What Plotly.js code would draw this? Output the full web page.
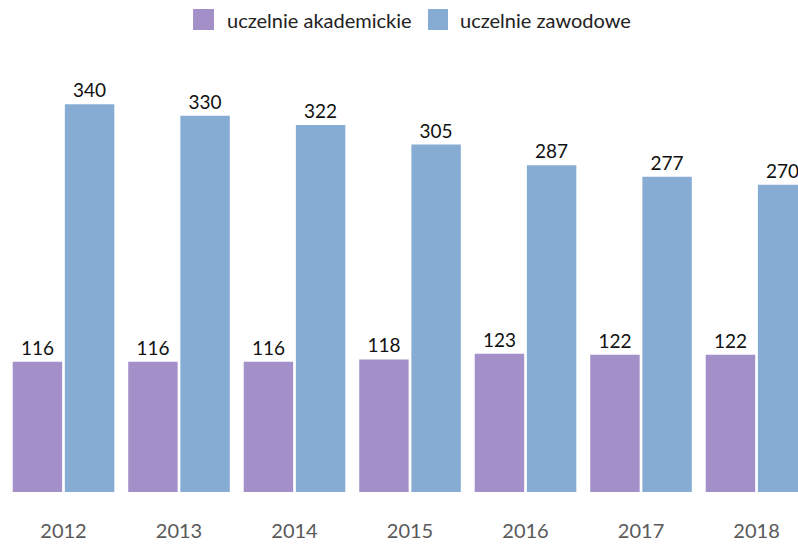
<!DOCTYPE html>
<html>
<head>
<meta charset="utf-8">
<script src="https://cdn.plot.ly/plotly-3.0.1.min.js"></script>
<style>html,body{margin:0;padding:0;background:#fff;}#chart{width:798px;height:544px;}</style>
</head>
<body>
<div id="chart"></div>
<script>
const years = ['2012', '2013', '2014', '2015', '2016', '2017', '2018'];
const academic = [116, 116, 116, 118, 123, 122, 122];
const vocational = [340, 330, 322, 305, 287, 277, 270];
const seriesNames = ['uczelnie akademickie', 'uczelnie zawodowe'];
const seriesColors = ['#A390C8', '#86ACD4'];

const FONT = 'Lato, "Open Sans", sans-serif';

const traces = [academic, vocational].map((vals, i) => ({
  type: 'bar',
  name: seriesNames[i],
  x: years,
  y: vals,
  marker: {color: seriesColors[i]},
  text: vals.map(String),
  textposition: 'outside',
  cliponaxis: false,
  textfont: {family: FONT, size: 19, color: '#111'},
  showlegend: false,
  hoverinfo: 'x+y+name'
}));

// legend drawn as swatches + text
const legendX = [[0.2419, 0.2682], [0.5363, 0.5614]];
const legendTextX = [0.282, 0.574];
const shapes = seriesNames.map((n, i) => ({
  type: 'rect', xref: 'paper', yref: 'paper',
  x0: legendX[i][0], x1: legendX[i][1], y0: 1.0452, y1: 1.0928,
  fillcolor: seriesColors[i], line: {width: 0}
}));
const annotations = seriesNames.map((n, i) => ({
  text: n, xref: 'paper', yref: 'paper', x: legendTextX[i], y: 1.069,
  xanchor: 'left', yanchor: 'middle', showarrow: false,
  font: {family: FONT, size: 20, color: '#222'}
}));

const layout = {
  width: 798, height: 544,
  margin: {l: 0, r: 0, t: 50, b: 52},
  paper_bgcolor: '#fff', plot_bgcolor: '#fff',
  barmode: 'group', bargap: 0.097, bargroupgap: 0.052,
  showlegend: false,
  font: {family: FONT},
  xaxis: {
    type: 'category', range: [-0.5498, 6.359],
    showgrid: false, zeroline: false, showline: false,
    ticks: '', ticklabelstandoff: 25,
    tickfont: {family: FONT, size: 20, color: '#595959'},
    fixedrange: true
  },
  yaxis: {
    range: [2.6, 387.3], visible: false, showgrid: false, zeroline: false,
    fixedrange: true
  },
  shapes: shapes,
  annotations: annotations
};

Plotly.newPlot('chart', traces, layout, {displayModeBar: false, staticPlot: true});
</script>
</body>
</html>
